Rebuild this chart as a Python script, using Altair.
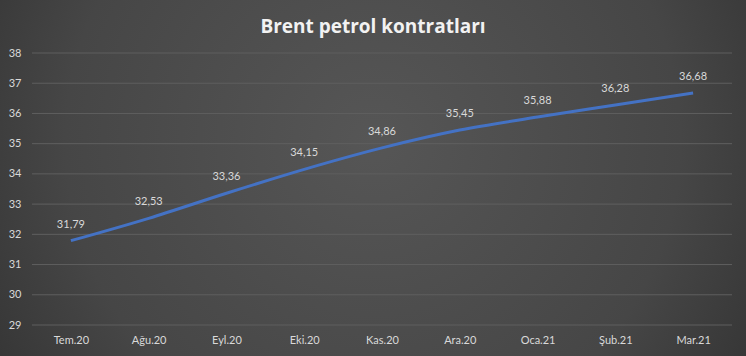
import altair as alt
import pandas as pd

months = ["Tem.20", "Ağu.20", "Eyl.20", "Eki.20", "Kas.20", "Ara.20", "Oca.21", "Şub.21", "Mar.21"]
prices = [31.79, 32.53, 33.36, 34.15, 34.86, 35.45, 35.88, 36.28, 36.68]
labels = [f"{v:.2f}".replace(".", ",") for v in prices]
y_ticks = list(range(29, 39))
title_text = "Brent petrol kontratları"

df = pd.DataFrame({"month": months, "price": prices, "label": labels})
grid_df = pd.DataFrame({"tick": y_ticks})
one = alt.Data(values=[{"a": 1}])

W, H = 700, 272
PL, PT, PR, PB = 32, 53, 14, 31
FONT = "Lato"
TXT = "#d9d9d9"
YSCALE = alt.Scale(domain=[29, 38], nice=False, zero=False)
XSCALE = alt.Scale(type="point", padding=0.5)

X_AXIS = alt.Axis(title=None, labelColor=TXT, labelFont=FONT, labelFontSize=11,
                  labelAngle=0, ticks=False, domain=False, grid=False, labelPadding=9,
                  zindex=1)
Y_AXIS = alt.Axis(title=None, values=y_ticks, labelColor=TXT, labelFont=FONT,
                  labelFontSize=11, ticks=False, domain=False, grid=False,
                  labelPadding=11, labelOverlap=False, zindex=1)

bg = alt.Chart(one).mark_rect(
    fill=alt.Gradient(gradient="radial",
                      stops=[alt.GradientStop(color="#565656", offset=0),
                             alt.GradientStop(color="#464646", offset=0.55),
                             alt.GradientStop(color="#272727", offset=1)],
                      x1=0.5, y1=0.45, r1=0, x2=0.5, y2=0.45, r2=0.75),
    clip=False
).encode(x=alt.value(-PL), x2=alt.value(W + PR), y=alt.value(-PT), y2=alt.value(H + PB))

grid = alt.Chart(grid_df).mark_rule(color="#5f5f5f", strokeWidth=1).encode(
    y=alt.Y("tick:Q", scale=YSCALE, axis=Y_AXIS))

line = alt.Chart(df).mark_line(color="#4472C4", strokeWidth=3, interpolate="monotone").encode(
    x=alt.X("month:N", sort=months, scale=XSCALE, axis=X_AXIS),
    y=alt.Y("price:Q", scale=YSCALE, axis=Y_AXIS))

text = alt.Chart(df).mark_text(color=TXT, font=FONT, fontSize=11, dy=-16, baseline="middle").encode(
    x=alt.X("month:N", sort=months, scale=XSCALE, axis=X_AXIS),
    y=alt.Y("price:Q", scale=YSCALE, axis=Y_AXIS),
    text="label:N")

title = alt.Chart(one).mark_text(text=title_text, font="Open Sans", fontWeight="bold",
                                 fontSize=19, color="#f2f2f2",
                                 align="center", baseline="middle").encode(
    x=alt.value(373 - PL), y=alt.value(27 - PT))

chart = alt.layer(bg, grid, line, text, title).properties(
    width=W, height=H,
    autosize=alt.AutoSizeParams(type="none"),
    padding={"left": PL, "top": PT, "right": PR, "bottom": PB},
    background="#333333"
).configure_view(stroke=None)

chart.save("out.html", embed_options={"renderer": "svg", "actions": False})
